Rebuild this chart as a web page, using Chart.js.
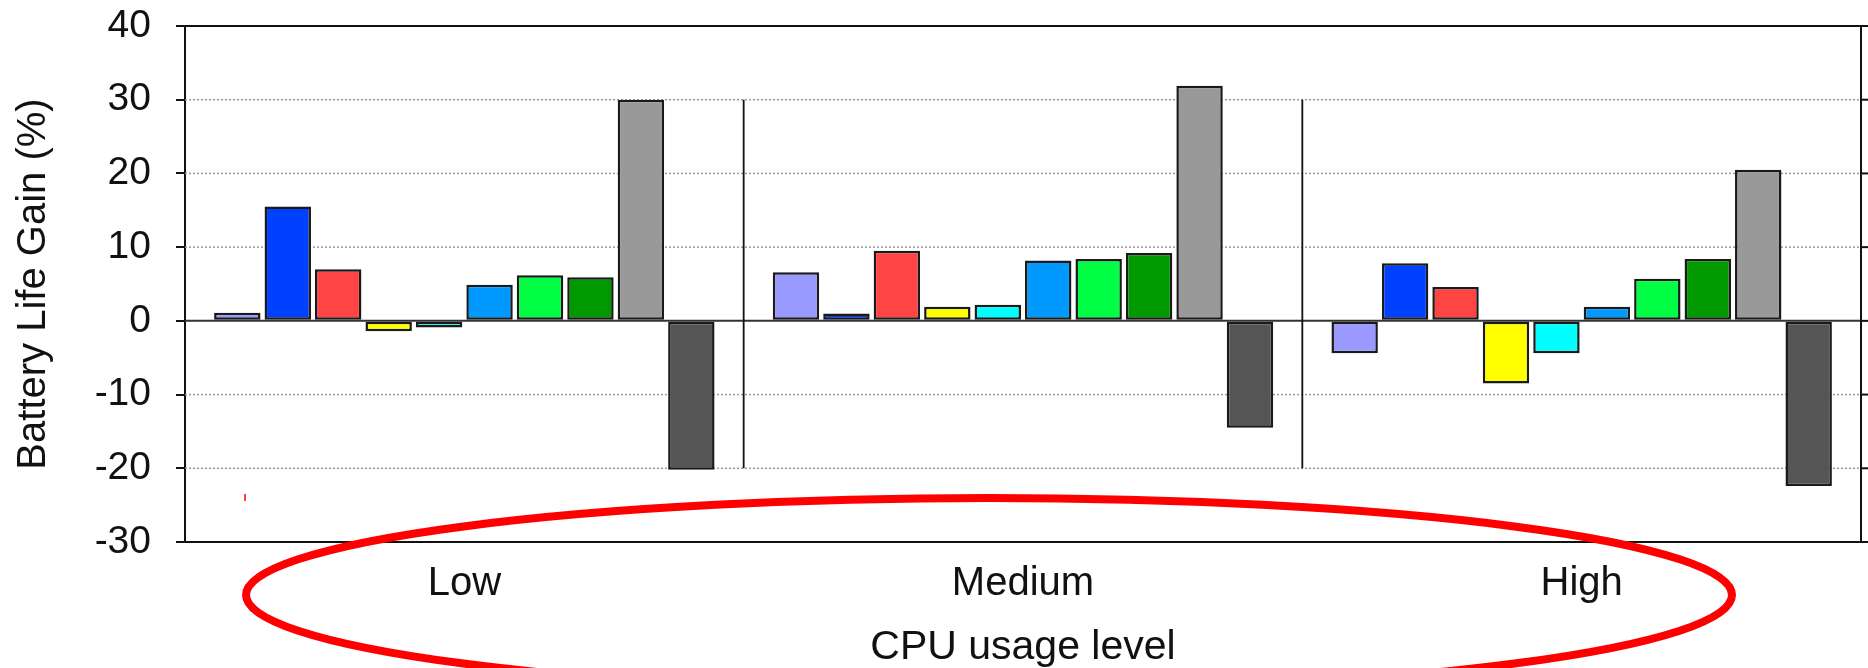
<!DOCTYPE html>
<html>
<head>
<meta charset="utf-8">
<script src="https://cdn.jsdelivr.net/npm/chart.js@4.4.0/dist/chart.umd.min.js"></script>
<style>
html, body { margin: 0; padding: 0; background: #fff; }
#wrap { width: 1868px; height: 668px; }
</style>
</head>
<body>
<div id="wrap"><canvas id="grafico"></canvas></div>
<script>
// data (battery life gain in %)
const categorias = ['Low', 'Medium', 'High'];
const serie1 = [1.1, 6.6, -4.4];
const serie2 = [15.5, 1.0, 7.8];
const serie3 = [7.0, 9.5, 4.6];
const serie4 = [-1.4, 1.9, -8.5];
const serie5 = [-0.9, 2.2, -4.4];
const serie6 = [4.9, 8.2, 1.9];
const serie7 = [6.2, 8.4, 5.7];
const serie8 = [5.9, 9.2, 8.4];
const serie9 = [30.0, 31.9, 20.5];
const serie10 = [-20.2, -14.5, -22.4];
const nomesSeries = ['Series 1', 'Series 2', 'Series 3', 'Series 4', 'Series 5',
                     'Series 6', 'Series 7', 'Series 8', 'Series 9', 'Series 10'];
const cores = ['#9999ff', '#0040ff', '#ff4444', '#ffff00', '#00ffff',
               '#0099ff', '#00ff44', '#009900', '#999999', '#555555'];
const yTicks = [-30, -20, -10, 0, 10, 20, 30, 40];

const todasSeries = [serie1, serie2, serie3, serie4, serie5, serie6, serie7, serie8, serie9, serie10];

Chart.defaults.font.family = "'Liberation Sans', Arial, sans-serif";
Chart.defaults.color = '#111';

function linha(ctx, x1, y1, x2, y2) {
    ctx.beginPath();
    ctx.moveTo(x1, y1);
    ctx.lineTo(x2, y2);
    ctx.stroke();
}

const extras = {
    id: 'extras',
    beforeDatasetsDraw(chart) {
        const { ctx, chartArea: a, scales: { x, y } } = chart;
        ctx.save();
        // dotted grid lines
        ctx.strokeStyle = '#9a9a9a';
        ctx.lineWidth = 1.5;
        ctx.setLineDash([2, 2]);
        yTicks.filter(v => v !== 0 && v !== 40 && v !== -30).forEach(v => {
            const py = y.getPixelForValue(v);
            linha(ctx, a.left, py, a.right, py);
        });
        ctx.setLineDash([]);
        // zero line
        ctx.strokeStyle = '#333';
        ctx.lineWidth = 2;
        const y0 = y.getPixelForValue(0);
        linha(ctx, a.left, y0, a.right, y0);
        // group separators
        ctx.strokeStyle = '#111';
        ctx.lineWidth = 1.8;
        for (let i = 1; i < categorias.length; i++) {
            const px = (x.getPixelForValue(i - 1) + x.getPixelForValue(i)) / 2;
            linha(ctx, px, y.getPixelForValue(30), px, y.getPixelForValue(-20));
        }
        ctx.restore();
    },
    afterDraw(chart) {
        const { ctx, chartArea: a, scales: { y } } = chart;
        ctx.save();
        // top and right frame
        ctx.strokeStyle = '#111';
        ctx.lineWidth = 2;
        linha(ctx, a.left, a.top, a.right, a.top);
        linha(ctx, a.right, a.top, a.right, a.bottom);
        yTicks.forEach(v => {
            const py = y.getPixelForValue(v);
            linha(ctx, a.right, py, a.right + 8, py);
        });
        // red annotation ellipse
        ctx.strokeStyle = '#ff0000';
        ctx.lineWidth = 8;
        ctx.beginPath();
        ctx.ellipse(989, a.bottom + 53, 743, 97, 0, 0, Math.PI * 2);
        ctx.stroke();
        // small red mark
        ctx.lineWidth = 1.5;
        linha(ctx, 245, a.bottom - 48, 245, a.bottom - 41);
        ctx.restore();
    }
};

const ctx = document.getElementById('grafico').getContext('2d');
new Chart(ctx, {
    type: 'bar',
    data: {
        labels: categorias,
        datasets: todasSeries.map((valores, i) => ({
            label: nomesSeries[i],
            data: valores,
            backgroundColor: cores[i],
            borderColor: '#1a1a1a',
            borderWidth: 2.5,
            borderSkipped: false,
            categoryPercentage: 0.903,
            barPercentage: 0.92
        }))
    },
    options: {
        responsive: true,
        maintainAspectRatio: false,
        animation: false,
        layout: { padding: { top: 26, right: 7, bottom: 0, left: 0 } },
        plugins: {
            legend: { display: false },
            tooltip: { enabled: false }
        },
        scales: {
            x: {
                grid: { display: false, drawTicks: false },
                border: { display: true, color: '#111', width: 2 },
                ticks: { font: { size: 40 }, padding: 18 },
                title: {
                    display: true,
                    text: 'CPU usage level',
                    font: { size: 41, lineHeight: 1 },
                    padding: { top: 0, bottom: 0 }
                },
                afterFit: s => { s.height = 126; }
            },
            y: {
                min: -30,
                max: 40,
                grid: { drawOnChartArea: false, drawTicks: true, tickLength: 9, color: '#111', lineWidth: 2 },
                border: { display: true, color: '#111', width: 2 },
                ticks: { stepSize: 10, font: { size: 39 }, padding: 25 },
                title: {
                    display: true,
                    text: 'Battery Life Gain (%)',
                    font: { size: 40, lineHeight: 1 },
                    padding: { top: 14, bottom: 0 }
                },
                afterFit: s => {
                    s.width = 185;
                    s.paddingTop = 0;
                    s.paddingBottom = 0;
                }
            }
        }
    },
    plugins: [extras]
});
</script>
</body>
</html>
